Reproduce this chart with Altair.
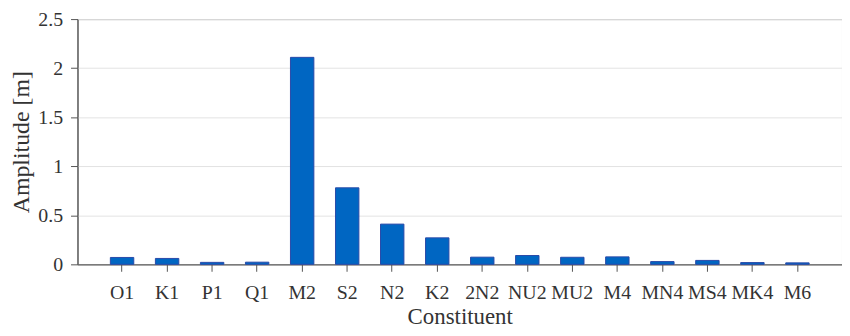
import altair as alt
import pandas as pd

constituents = ["O1", "K1", "P1", "Q1", "M2", "S2", "N2", "K2",
                "2N2", "NU2", "MU2", "M4", "MN4", "MS4", "MK4", "M6"]
amplitudes = [0.07, 0.06, 0.02, 0.022, 2.11, 0.78, 0.41, 0.27,
              0.073, 0.09, 0.072, 0.076, 0.028, 0.04, 0.018, 0.015]

df = pd.DataFrame({"Constituent": constituents, "Amplitude": amplitudes})

FONT = "Liberation Serif"
common = dict(labelFont=FONT, titleFont=FONT, labelFontSize=20,
              labelColor="#333333", titleColor="#333333",
              domainColor="#555555", tickColor="#555555",
              titleFontWeight="normal", tickSize=7)

chart = alt.Chart(df).mark_bar(
    color="#0066c2", stroke="#2a4aa8", strokeWidth=1
).encode(
    x=alt.X("Constituent:N", sort=constituents,
            scale=alt.Scale(paddingInner=0.48, paddingOuter=0.73),
            axis=alt.Axis(title="Constituent", labelAngle=0, grid=False,
                          labelPadding=11, titlePadding=4,
                          titleFontSize=23, **common)),
    y=alt.Y("Amplitude:Q", scale=alt.Scale(domain=[0, 2.5], nice=False),
            axis=alt.Axis(title="Amplitude [m]", values=[0, 0.5, 1, 1.5, 2, 2.5],
                          format="~g", labelPadding=8, titlePadding=4,
                          titleFontSize=24, gridColor="#e3e3e3", **common)),
).properties(
    width=770, height=247,
    padding={"left": 70, "top": 10, "right": 0, "bottom": 70},
    autosize=alt.AutoSizeParams(type="none"),
).configure(
    font=FONT
).configure_view(
    stroke="#555555", strokeWidth=1
)

chart.save("out.html", embed_options={"renderer": "svg", "actions": False})
